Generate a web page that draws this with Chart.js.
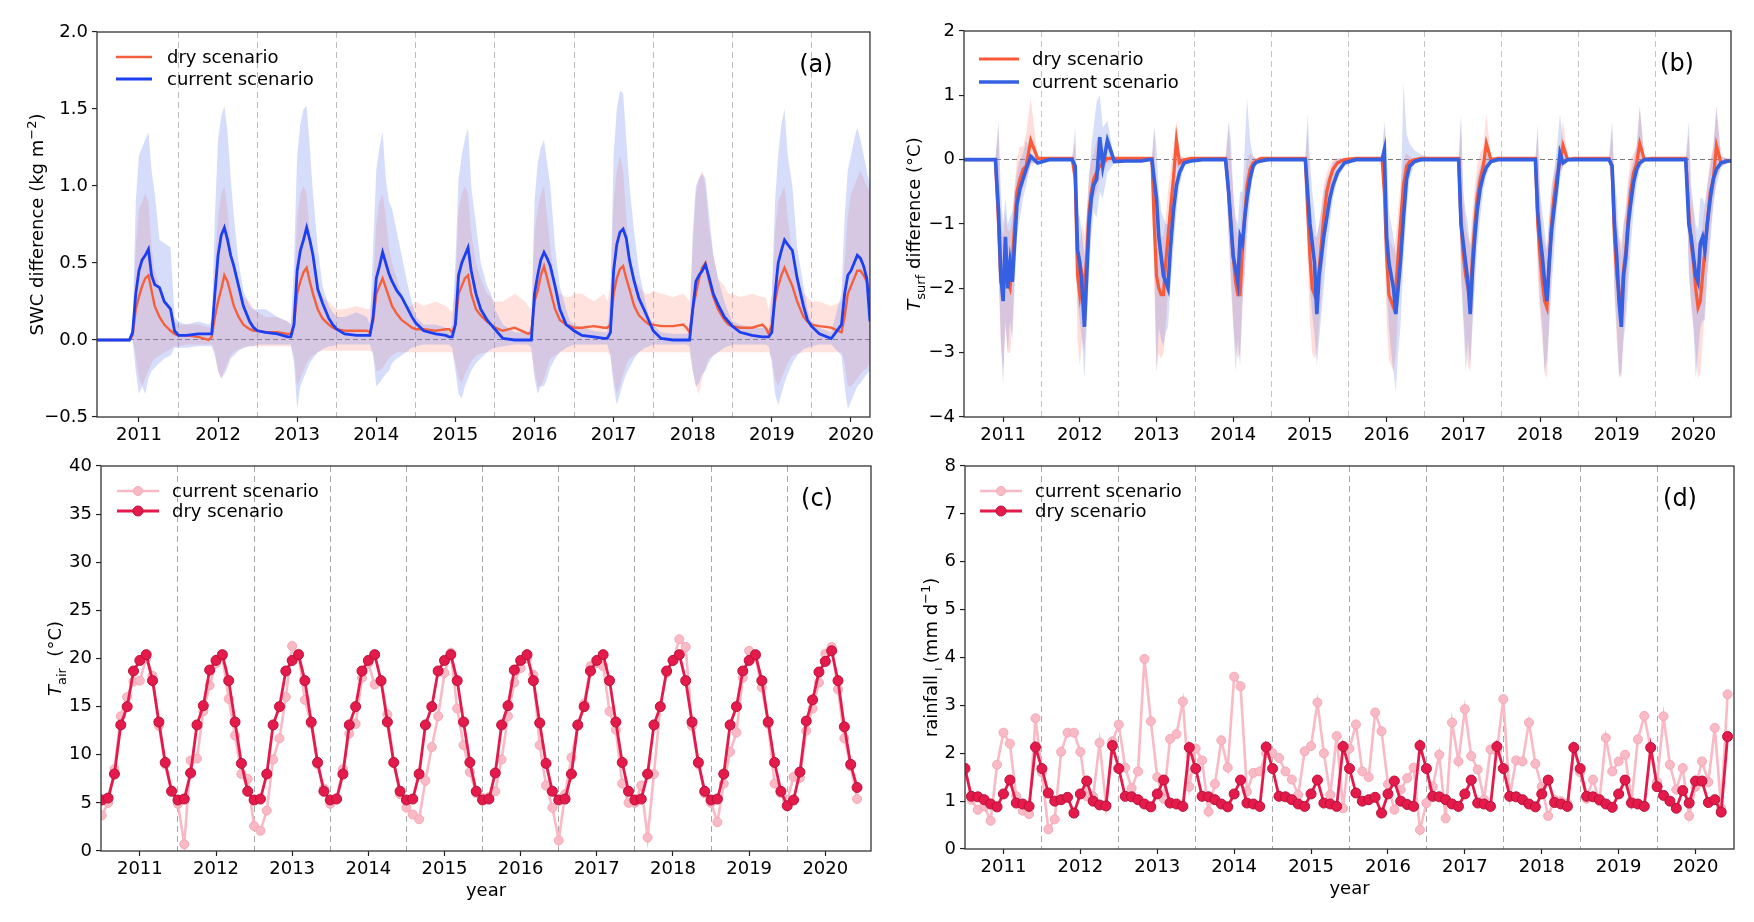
<!DOCTYPE html>
<html>
<head>
<meta charset="utf-8">
<script src="https://cdn.jsdelivr.net/npm/chart.js@4.4.1/dist/chart.umd.min.js"></script>
<style>
  html, body { margin: 0; padding: 0; background: #fff; }
  #page { position: relative; width: 1754px; height: 922px; overflow: hidden; background: #fff; }
  canvas { position: absolute; }
</style>
</head>
<body>
<div id="page">
  <canvas id="panelA" width="877" height="461" style="left:0;top:0"></canvas>
  <canvas id="panelB" width="877" height="461" style="left:877px;top:0"></canvas>
  <canvas id="panelC" width="877" height="482" style="left:0;top:440px"></canvas>
  <canvas id="panelD" width="877" height="482" style="left:877px;top:440px"></canvas>
</div>
<script>
// ---- axis ticks ----
const YEAR_TICKS = [2011, 2012, 2013, 2014, 2015, 2016, 2017, 2018, 2019, 2020];
const YEAR_BOUNDS = [2011.5, 2012.5, 2013.5, 2014.5, 2015.5, 2016.5, 2017.5, 2018.5, 2019.5];

// ---- (a) SWC difference, sampled along the daily curves ----
const X_A = [2010.47, 2010.6, 2010.75, 2010.88,
  2010.92, 2010.96, 2011.0, 2011.04, 2011.08, 2011.12, 2011.16, 2011.2, 2011.26, 2011.32, 2011.4, 2011.45, 2011.5, 2011.6, 2011.75, 2011.88,
  2011.92, 2011.96, 2012.0, 2012.04, 2012.08, 2012.12, 2012.16, 2012.2, 2012.26, 2012.32, 2012.4, 2012.45, 2012.5, 2012.6, 2012.75, 2012.88,
  2012.92, 2012.96, 2013.0, 2013.04, 2013.08, 2013.12, 2013.16, 2013.2, 2013.26, 2013.32, 2013.4, 2013.45, 2013.5, 2013.6, 2013.75, 2013.88,
  2013.92, 2013.96, 2014.0, 2014.04, 2014.08, 2014.12, 2014.16, 2014.2, 2014.26, 2014.32, 2014.4, 2014.45, 2014.5, 2014.6, 2014.75, 2014.88,
  2014.92, 2014.96, 2015.0, 2015.04, 2015.08, 2015.12, 2015.16, 2015.2, 2015.26, 2015.32, 2015.4, 2015.45, 2015.5, 2015.6, 2015.75, 2015.88,
  2015.92, 2015.96, 2016.0, 2016.04, 2016.08, 2016.12, 2016.16, 2016.2, 2016.26, 2016.32, 2016.4, 2016.45, 2016.5, 2016.6, 2016.75, 2016.88,
  2016.92, 2016.96, 2017.0, 2017.04, 2017.08, 2017.12, 2017.16, 2017.2, 2017.26, 2017.32, 2017.4, 2017.45, 2017.5, 2017.6, 2017.75, 2017.88,
  2017.92, 2017.96, 2018.0, 2018.04, 2018.08, 2018.12, 2018.16, 2018.2, 2018.26, 2018.32, 2018.4, 2018.45, 2018.5, 2018.6, 2018.75, 2018.88,
  2018.92, 2018.96, 2019.0, 2019.04, 2019.08, 2019.12, 2019.16, 2019.2, 2019.26, 2019.32, 2019.4, 2019.45, 2019.5, 2019.6, 2019.75, 2019.88,
  2019.92, 2019.96, 2020.0, 2020.04, 2020.08, 2020.12, 2020.16, 2020.2, 2020.24];

const CUR_A = [0, 0, 0, 0,
  0.05, 0.3, 0.45, 0.52, 0.55, 0.59, 0.42, 0.36, 0.34, 0.25, 0.2, 0.06, 0.03, 0.03, 0.04, 0.04,
  0.04, 0.3, 0.55, 0.68, 0.73, 0.65, 0.55, 0.48, 0.35, 0.22, 0.12, 0.08, 0.06, 0.05, 0.04, 0.02,
  0.02, 0.1, 0.45, 0.58, 0.65, 0.73, 0.65, 0.55, 0.33, 0.24, 0.14, 0.1, 0.07, 0.04, 0.03, 0.03,
  0.03, 0.15, 0.4, 0.48, 0.57, 0.5, 0.43, 0.38, 0.32, 0.28, 0.2, 0.15, 0.11, 0.06, 0.04, 0.03,
  0.02, 0.02, 0.1, 0.42, 0.5, 0.55, 0.6, 0.45, 0.3, 0.2, 0.13, 0.1, 0.07, 0.01, 0.0, 0.0,
  0.0, 0.0, 0.3, 0.42, 0.52, 0.57, 0.53, 0.48, 0.35, 0.2, 0.1, 0.08, 0.06, 0.03, 0.02, 0.01,
  0.01, 0.05, 0.45, 0.62, 0.7, 0.72, 0.66, 0.52, 0.38, 0.27, 0.18, 0.12, 0.06, 0.01, 0.0, 0.0,
  0.0, 0.0, 0.2, 0.38, 0.42, 0.45, 0.49, 0.42, 0.3, 0.23, 0.15, 0.12, 0.09, 0.05, 0.03, 0.02,
  0.02, 0.02, 0.05, 0.3, 0.5, 0.58, 0.65, 0.62, 0.58, 0.4, 0.22, 0.13, 0.09, 0.04, 0.01, 0.1,
  0.3, 0.42, 0.45, 0.5, 0.55, 0.53, 0.48, 0.4, 0.12];

const DRY_A = [0, 0, 0, 0,
  0.03, 0.2, 0.28, 0.35, 0.4, 0.42, 0.32, 0.22, 0.15, 0.1, 0.06, 0.04, 0.03, 0.03, 0.02, 0.0,
  0.02, 0.15, 0.25, 0.33, 0.42, 0.38, 0.3, 0.22, 0.15, 0.1, 0.07, 0.06, 0.06, 0.05, 0.05, 0.04,
  0.04, 0.1, 0.3, 0.38, 0.44, 0.47, 0.38, 0.3, 0.2, 0.14, 0.1, 0.08, 0.07, 0.06, 0.06, 0.06,
  0.05, 0.12, 0.3, 0.35, 0.4, 0.34, 0.28, 0.22, 0.17, 0.13, 0.1, 0.08, 0.07, 0.07, 0.06, 0.07,
  0.07, 0.05, 0.1, 0.3, 0.35, 0.4, 0.42, 0.3, 0.2, 0.16, 0.12, 0.1, 0.08, 0.06, 0.08, 0.05,
  0.04, 0.05, 0.25, 0.32, 0.42, 0.48, 0.4, 0.32, 0.2, 0.13, 0.1, 0.09, 0.08, 0.08, 0.09, 0.08,
  0.08, 0.1, 0.3, 0.4, 0.46, 0.48, 0.4, 0.33, 0.22, 0.16, 0.12, 0.1, 0.1, 0.09, 0.09, 0.1,
  0.08, 0.05, 0.2, 0.3, 0.4, 0.47, 0.5, 0.4, 0.28, 0.2, 0.13, 0.1, 0.09, 0.08, 0.08, 0.1,
  0.08, 0.04, 0.1, 0.25, 0.35, 0.42, 0.47, 0.42, 0.35, 0.25, 0.15, 0.12, 0.1, 0.09, 0.08, 0.05,
  0.15, 0.3, 0.35, 0.4, 0.45, 0.45, 0.42, 0.38, 0.3];

const CUR_A_HI = [0, 0, 0, 0,
  0.1, 0.9, 1.2, 1.25, 1.3, 1.35, 1.1, 0.95, 0.65, 0.63, 0.6, 0.15, 0.12, 0.1, 0.12, 0.1,
  0.12, 0.8, 1.3, 1.45, 1.52, 1.35, 1.05, 0.8, 0.5, 0.32, 0.22, 0.2, 0.2, 0.2, 0.15, 0.12,
  0.1, 0.5, 1.2, 1.4, 1.5, 1.52, 1.25, 0.95, 0.6, 0.35, 0.22, 0.18, 0.15, 0.15, 0.18, 0.15,
  0.1, 0.6, 1.1, 1.25, 1.35, 1.05, 0.9, 0.85, 0.7, 0.55, 0.35, 0.25, 0.15, 0.1, 0.1, 0.08,
  0.05, 0.1, 0.5, 1.05, 1.2, 1.3, 1.38, 1.0, 0.75, 0.5, 0.35, 0.3, 0.2, 0.1, 0.05, 0.05,
  0.05, 0.1, 0.9, 1.15, 1.25, 1.3, 1.15, 1.0, 0.6, 0.35, 0.2, 0.12, 0.1, 0.08, 0.06, 0.05,
  0.05, 0.3, 1.2, 1.5, 1.62, 1.6, 1.3, 1.0, 0.7, 0.45, 0.25, 0.15, 0.1, 0.05, 0.04, 0.04,
  0.04, 0.05, 0.7, 1.0, 1.05, 1.08, 1.05, 0.85, 0.55, 0.4, 0.25, 0.18, 0.12, 0.1, 0.08, 0.08,
  0.08, 0.05, 0.3, 0.9, 1.2, 1.4, 1.5, 1.2, 1.0, 0.6, 0.35, 0.2, 0.12, 0.08, 0.05, 0.3,
  0.8, 1.1, 1.2, 1.3, 1.38, 1.3, 1.2, 1.1, 1.0];

const CUR_A_LO = [0, 0, 0, 0,
  0, -0.2, -0.35, -0.3, -0.35, -0.25, -0.2, -0.18, -0.15, -0.12, -0.1, -0.05, -0.05, -0.05, -0.04, -0.04,
  -0.04, -0.1, -0.2, -0.25, -0.22, -0.18, -0.12, -0.1, -0.07, -0.05, -0.04, -0.04, -0.03, -0.03, -0.03, -0.03,
  -0.03, -0.15, -0.45, -0.3, -0.25, -0.2, -0.15, -0.12, -0.08, -0.06, -0.04, -0.04, -0.03, -0.03, -0.03, -0.03,
  -0.03, -0.1, -0.3, -0.28, -0.25, -0.22, -0.2, -0.15, -0.12, -0.1, -0.07, -0.05, -0.04, -0.03, -0.03, -0.03,
  -0.03, -0.05, -0.2, -0.35, -0.38, -0.3, -0.25, -0.2, -0.15, -0.12, -0.08, -0.06, -0.05, -0.04, -0.03, -0.03,
  -0.03, -0.05, -0.25, -0.35, -0.3, -0.3, -0.25, -0.18, -0.12, -0.08, -0.05, -0.04, -0.03, -0.03, -0.03, -0.03,
  -0.03, -0.1, -0.3, -0.42, -0.35, -0.28, -0.22, -0.18, -0.12, -0.08, -0.05, -0.04, -0.03, -0.03, -0.03, -0.03,
  -0.03, -0.04, -0.2, -0.3, -0.28, -0.22, -0.2, -0.15, -0.1, -0.08, -0.05, -0.04, -0.03, -0.03, -0.03, -0.03,
  -0.03, -0.04, -0.15, -0.35, -0.42, -0.35, -0.28, -0.22, -0.15, -0.1, -0.06, -0.05, -0.04, -0.03, -0.03, -0.1,
  -0.3, -0.45, -0.4, -0.35, -0.3, -0.28, -0.25, -0.22, -0.2];

const DRY_A_HI = [0, 0, 0, 0,
  0.05, 0.6, 0.85, 0.9, 0.95, 0.9, 0.6, 0.45, 0.35, 0.25, 0.2, 0.12, 0.1, 0.1, 0.1, 0.08,
  0.08, 0.5, 0.8, 0.95, 1.0, 0.85, 0.6, 0.45, 0.3, 0.28, 0.25, 0.2, 0.18, 0.15, 0.15, 0.12,
  0.1, 0.3, 0.8, 0.95, 1.0, 0.95, 0.7, 0.55, 0.35, 0.28, 0.25, 0.22, 0.2, 0.2, 0.22, 0.2,
  0.2, 0.35, 0.75, 0.9, 0.95, 0.8, 0.6, 0.5, 0.4, 0.3, 0.22, 0.22, 0.25, 0.22, 0.25, 0.22,
  0.2, 0.18, 0.35, 0.85, 0.95, 1.0, 0.95, 0.7, 0.5, 0.4, 0.3, 0.28, 0.25, 0.25, 0.3, 0.25,
  0.22, 0.2, 0.7, 0.85, 0.95, 1.0, 0.8, 0.6, 0.35, 0.3, 0.28, 0.28, 0.3, 0.3, 0.25, 0.3,
  0.25, 0.35, 0.9, 1.1, 1.2, 1.1, 0.8, 0.55, 0.4, 0.35, 0.3, 0.3, 0.32, 0.3, 0.28, 0.3,
  0.28, 0.25, 0.6, 0.95, 1.05, 1.1, 1.0, 0.75, 0.55, 0.4, 0.35, 0.3, 0.3, 0.28, 0.3, 0.28,
  0.28, 0.2, 0.3, 0.7, 0.9, 0.95, 1.0, 0.8, 0.55, 0.4, 0.3, 0.28, 0.25, 0.25, 0.22, 0.25,
  0.5, 0.8, 0.95, 1.0, 1.05, 1.1, 1.05, 1.0, 0.95];

const DRY_A_LO = [0, 0, 0, 0,
  0, -0.1, -0.25, -0.3, -0.25, -0.2, -0.15, -0.12, -0.1, -0.08, -0.06, -0.04, -0.04, -0.03, -0.03, -0.03,
  -0.03, -0.08, -0.2, -0.25, -0.2, -0.15, -0.1, -0.08, -0.06, -0.05, -0.04, -0.04, -0.04, -0.04, -0.04, -0.04,
  -0.04, -0.1, -0.3, -0.25, -0.2, -0.15, -0.12, -0.1, -0.08, -0.07, -0.07, -0.07, -0.07, -0.07, -0.07, -0.07,
  -0.07, -0.08, -0.2, -0.2, -0.18, -0.15, -0.12, -0.1, -0.08, -0.08, -0.08, -0.08, -0.08, -0.08, -0.08, -0.08,
  -0.08, -0.08, -0.15, -0.25, -0.28, -0.22, -0.18, -0.14, -0.1, -0.09, -0.08, -0.08, -0.08, -0.08, -0.08, -0.08,
  -0.08, -0.08, -0.2, -0.3, -0.3, -0.25, -0.18, -0.12, -0.1, -0.08, -0.08, -0.08, -0.08, -0.08, -0.08, -0.08,
  -0.08, -0.1, -0.25, -0.35, -0.3, -0.22, -0.16, -0.12, -0.1, -0.08, -0.08, -0.08, -0.08, -0.08, -0.08, -0.08,
  -0.08, -0.08, -0.2, -0.3, -0.35, -0.25, -0.18, -0.12, -0.1, -0.08, -0.08, -0.08, -0.08, -0.08, -0.08, -0.08,
  -0.08, -0.08, -0.12, -0.25, -0.3, -0.25, -0.2, -0.15, -0.1, -0.09, -0.08, -0.08, -0.08, -0.08, -0.08, -0.08,
  -0.15, -0.3, -0.3, -0.28, -0.25, -0.22, -0.2, -0.18, -0.15];

// ---- (b) Tsurf difference, sampled along the daily curves ----
const X_B = [2010.49, 2010.7,
  2010.9, 2010.94, 2010.97, 2011.0, 2011.03, 2011.06, 2011.09, 2011.12, 2011.15, 2011.18, 2011.22, 2011.26, 2011.3, 2011.36, 2011.45, 2011.6, 2011.8,
  2011.9, 2011.94, 2011.97, 2012.0, 2012.03, 2012.06, 2012.09, 2012.12, 2012.15, 2012.18, 2012.22, 2012.26, 2012.3, 2012.36, 2012.45, 2012.6, 2012.8,
  2012.9, 2012.94, 2012.97, 2013.0, 2013.03, 2013.06, 2013.09, 2013.12, 2013.15, 2013.18, 2013.22, 2013.26, 2013.3, 2013.36, 2013.45, 2013.6, 2013.8,
  2013.9, 2013.94, 2013.97, 2014.0, 2014.03, 2014.06, 2014.09, 2014.12, 2014.15, 2014.18, 2014.22, 2014.26, 2014.3, 2014.36, 2014.45, 2014.6, 2014.8,
  2014.9, 2014.94, 2014.97, 2015.0, 2015.03, 2015.06, 2015.09, 2015.12, 2015.15, 2015.18, 2015.22, 2015.26, 2015.3, 2015.36, 2015.45, 2015.6, 2015.8,
  2015.9, 2015.94, 2015.97, 2016.0, 2016.03, 2016.06, 2016.09, 2016.12, 2016.15, 2016.18, 2016.22, 2016.26, 2016.3, 2016.36, 2016.45, 2016.6, 2016.8,
  2016.9, 2016.94, 2016.97, 2017.0, 2017.03, 2017.06, 2017.09, 2017.12, 2017.15, 2017.18, 2017.22, 2017.26, 2017.3, 2017.36, 2017.45, 2017.6, 2017.8,
  2017.9, 2017.94, 2017.97, 2018.0, 2018.03, 2018.06, 2018.09, 2018.12, 2018.15, 2018.18, 2018.22, 2018.26, 2018.3, 2018.36, 2018.45, 2018.6, 2018.8,
  2018.9, 2018.94, 2018.97, 2019.0, 2019.03, 2019.06, 2019.09, 2019.12, 2019.15, 2019.18, 2019.22, 2019.26, 2019.3, 2019.36, 2019.45, 2019.6, 2019.8,
  2019.9, 2019.94, 2019.97, 2020.0, 2020.03, 2020.06, 2020.09, 2020.12, 2020.15, 2020.18, 2020.22, 2020.26, 2020.3, 2020.36, 2020.45, 2020.49];

const CUR_B = [0, 0,
  0, -0.8, -1.8, -2.2, -1.2, -2.0, -1.6, -1.9, -1.3, -0.7, -0.45, -0.3, -0.15, 0.05, -0.05, 0, 0,
  0, -0.1, -1.4, -1.6, -2.0, -2.6, -1.8, -1.0, -0.6, -0.4, -0.3, 0.35, -0.1, 0.3, -0.03, -0.02, -0.02,
  0, 0, -0.3, -0.6, -1.2, -1.5, -1.8, -1.9, -2.0, -1.4, -0.8, -0.4, -0.2, -0.05, -0.02, 0, 0,
  0, -0.5, -1.0, -1.5, -1.7, -1.9, -1.2, -1.3, -0.9, -0.6, -0.3, -0.1, -0.04, -0.02, 0, 0, 0,
  0, 0, -0.5, -1.0, -1.3, -1.6, -2.4, -1.8, -1.5, -1.2, -0.9, -0.6, -0.4, -0.2, -0.05, 0, 0,
  0, 0, 0.15, -1.2, -1.6, -1.8, -2.0, -2.4, -2.0, -1.6, -0.9, -0.3, -0.1, -0.03, 0, 0, 0,
  0, 0, -1.0, -1.3, -1.6, -1.9, -2.4, -1.7, -1.2, -0.8, -0.45, -0.25, -0.12, -0.03, 0, 0, 0,
  0, 0, -0.8, -1.2, -1.5, -1.9, -2.2, -1.6, -1.1, -0.8, -0.4, 0.1, -0.05, 0, 0, 0, 0,
  0, -0.1, -1.0, -1.5, -2.2, -2.6, -1.8, -1.5, -1.0, -0.7, -0.35, -0.15, -0.05, 0, 0, 0, 0,
  0, -1.0, -1.2, -1.5, -1.8, -1.9, -1.3, -1.2, -1.4, -1.0, -0.6, -0.3, -0.15, -0.05, -0.02, -0.02];

const DRY_B = [0, 0,
  0, -1.0, -1.9, -2.0, -1.5, -1.9, -2.0, -1.6, -1.0, -0.5, -0.3, -0.15, -0.1, 0.3, 0.02, 0.02, 0.02,
  0.02, -0.3, -1.8, -2.1, -1.8, -2.0, -1.5, -0.8, -0.5, -0.3, -0.2, -0.1, -0.05, 0.02, 0.02, 0.02, 0.02,
  0.02, 0.02, -1.0, -1.8, -2.0, -2.1, -2.1, -1.6, -1.2, -0.8, -0.3, 0.3, -0.05, 0.0, 0.02, 0.02, 0.02,
  0.02, -0.5, -1.0, -1.5, -1.9, -2.1, -2.1, -1.4, -0.9, -0.4, -0.15, -0.05, -0.02, 0.02, 0.02, 0.02, 0.02,
  0.02, 0.02, -0.8, -1.5, -2.0, -2.1, -2.0, -1.7, -1.3, -0.9, -0.5, -0.3, -0.15, -0.05, 0.0, 0.02, 0.02,
  0.02, 0.02, -0.5, -1.5, -2.1, -2.2, -2.3, -2.0, -1.5, -1.0, -0.4, -0.1, -0.03, 0.0, 0.02, 0.02, 0.02,
  0.02, 0.02, -1.0, -1.5, -1.8, -2.0, -2.1, -1.5, -1.0, -0.6, -0.3, -0.1, 0.25, 0.0, 0.02, 0.02, 0.02,
  0.02, 0.02, -1.0, -1.5, -1.9, -2.2, -2.3, -1.6, -1.0, -0.6, -0.25, -0.05, 0.22, 0.0, 0.02, 0.02, 0.02,
  0.02, -0.1, -1.2, -1.8, -2.1, -2.2, -1.7, -1.4, -0.9, -0.5, -0.2, -0.05, 0.25, 0.0, 0.02, 0.02, 0.02,
  0.02, -0.8, -1.3, -1.6, -2.0, -2.3, -2.2, -1.8, -1.4, -1.0, -0.5, -0.3, 0.22, -0.05, -0.02, -0.02];

const CUR_B_HI = [0, 0,
  0.02, 0.6, -0.5, -1.0, -0.6, -1.0, -0.9, -0.8, -0.5, -0.2, 0.0, 0.1, 0.3, 0.1, 0.02, 0.02, 0.02,
  0.02, 0.5, -0.8, -0.9, -1.2, -1.5, -0.9, -0.3, 0.2, 0.5, 0.9, 1.0, 0.5, 0.6, 0.02, 0.02, 0.02,
  0.02, 0.02, 0.5, 0.2, -0.5, -0.8, -0.9, -1.0, -1.0, -0.6, -0.2, 0.0, 0.05, 0.02, 0.02, 0.02, 0.02,
  0.02, 0.6, 0.3, -0.5, -0.9, -1.0, -0.5, -0.5, 0.2, 0.95, 0.3, 0.05, 0.02, 0.02, 0.02, 0.02, 0.02,
  0.02, 0.02, 0.7, 0.0, -0.5, -0.8, -1.2, -1.0, -0.8, -0.5, -0.3, -0.2, -0.05, 0.02, 0.02, 0.02, 0.02,
  0.02, 0.02, 0.6, 0.2, -0.8, -1.0, -1.2, -1.5, -1.2, -0.8, 1.2, 0.4, 0.25, 0.15, 0.08, 0.02, 0.02,
  0.02, 0.02, 0.7, -0.5, -0.8, -1.0, -1.4, -1.0, -0.6, -0.3, -0.1, 0.0, 0.1, 0.02, 0.02, 0.02, 0.02,
  0.02, 0.02, 0.55, -0.5, -0.8, -1.1, -1.4, -0.9, -0.5, -0.2, 0.2, 0.7, 0.3, 0.02, 0.02, 0.02, 0.02,
  0.02, 0.6, -0.3, -0.6, -1.2, -1.5, -1.0, -0.8, -0.4, -0.2, 0.0, 0.2, 0.8, 0.05, 0.02, 0.02, 0.02,
  0.02, 0.6, -0.4, -0.7, -1.0, -1.1, -0.6, -0.6, -0.7, -0.4, -0.1, 0.2, 0.8, 0.05, 0.02, 0.02];

const CUR_B_LO = [0, 0,
  -0.02, -1.5, -2.8, -3.5, -2.5, -3.0, -2.5, -2.8, -2.0, -1.2, -0.9, -0.6, -0.4, -0.05, -0.05, -0.02, -0.02,
  -0.02, -0.4, -2.2, -2.5, -2.8, -3.4, -2.6, -1.8, -1.2, -0.8, -0.9, -0.5, -0.6, -0.2, -0.05, -0.03, -0.03,
  -0.02, -0.02, -1.5, -3.3, -2.6, -2.8, -2.9, -2.7, -2.6, -2.0, -1.4, -0.8, -0.4, -0.1, -0.04, -0.02, -0.02,
  -0.02, -1.2, -1.8, -2.5, -3.3, -2.8, -3.2, -2.2, -1.8, -1.2, -0.6, -0.2, -0.08, -0.04, -0.02, -0.02, -0.02,
  -0.02, -0.02, -1.2, -2.0, -2.4, -2.7, -3.2, -2.8, -2.4, -2.0, -1.4, -1.0, -0.6, -0.3, -0.1, -0.02, -0.02,
  -0.02, -0.02, -0.8, -2.0, -2.6, -3.0, -3.3, -3.6, -3.0, -2.6, -1.6, -0.8, -0.3, -0.08, -0.02, -0.02, -0.02,
  -0.02, -0.02, -1.8, -2.5, -3.3, -2.8, -3.2, -2.6, -2.0, -1.4, -0.9, -0.5, -0.25, -0.06, -0.02, -0.02, -0.02,
  -0.02, -0.02, -1.5, -2.2, -2.6, -3.3, -3.1, -2.6, -2.0, -1.5, -0.8, -0.3, -0.1, -0.03, -0.02, -0.02, -0.02,
  -0.02, -0.5, -2.0, -2.6, -3.4, -3.3, -2.8, -2.5, -2.0, -1.4, -0.8, -0.4, -0.15, -0.03, -0.02, -0.02, -0.02,
  -0.02, -1.8, -2.2, -2.6, -3.4, -3.0, -2.6, -2.5, -2.5, -1.8, -1.3, -0.7, -0.4, -0.12, -0.05, -0.04];

const DRY_B_HI = [0, 0,
  0.02, 0.5, -1.0, -1.2, -0.8, -1.1, -1.1, -0.9, -0.4, 0.0, 0.2, 0.2, 0.4, 0.95, 0.05, 0.02, 0.02,
  0.02, 0.3, -1.0, -1.3, -1.0, -1.2, -0.8, -0.2, 0.0, 0.1, 0.3, 0.4, 0.2, 0.05, 0.02, 0.02, 0.02,
  0.02, 0.02, 0.5, -0.8, -1.0, -1.2, -1.2, -0.9, -0.5, -0.2, 0.2, 0.6, 0.1, 0.02, 0.02, 0.02, 0.02,
  0.02, 0.5, 0.0, -0.5, -1.0, -1.2, -1.2, -0.6, -0.3, 0.0, 0.1, 0.05, 0.02, 0.02, 0.02, 0.02, 0.02,
  0.02, 0.02, 0.5, -0.6, -1.0, -1.2, -1.2, -1.0, -0.7, -0.4, -0.2, -0.1, 0.0, 0.02, 0.02, 0.02, 0.02,
  0.02, 0.02, 0.5, -0.5, -1.2, -1.3, -1.4, -1.2, -0.8, -0.4, 0.0, 0.1, 0.05, 0.02, 0.02, 0.02, 0.02,
  0.02, 0.02, 0.6, -0.6, -1.0, -1.2, -1.3, -0.8, -0.4, -0.1, 0.1, 0.2, 0.7, 0.05, 0.02, 0.02, 0.02,
  0.02, 0.02, 0.4, -0.6, -1.1, -1.3, -1.4, -0.9, -0.4, -0.2, 0.0, 0.2, 0.6, 0.05, 0.02, 0.02, 0.02,
  0.02, 0.5, -0.4, -1.0, -1.2, -1.3, -1.0, -0.7, -0.3, 0.0, 0.1, 0.2, 0.85, 0.05, 0.02, 0.02, 0.02,
  0.02, 0.4, -0.6, -0.8, -1.2, -1.4, -1.3, -1.0, -0.7, -0.4, 0.0, 0.2, 0.85, 0.05, 0.02, 0.02];

const DRY_B_LO = [0, 0,
  -0.02, -1.8, -2.9, -3.3, -2.6, -3.0, -3.0, -2.6, -1.8, -1.0, -0.6, -0.4, -0.3, -0.1, -0.02, -0.02, -0.02,
  -0.02, -0.8, -2.8, -3.2, -2.8, -3.0, -2.4, -1.5, -1.0, -0.6, -0.5, -0.3, -0.2, -0.05, -0.02, -0.02, -0.02,
  -0.02, -0.02, -2.0, -3.3, -3.0, -3.1, -3.0, -2.6, -2.0, -1.5, -0.7, -0.1, -0.2, -0.05, -0.02, -0.02, -0.02,
  -0.02, -1.2, -2.0, -2.6, -2.9, -3.1, -3.0, -2.3, -1.6, -0.9, -0.4, -0.15, -0.05, -0.02, -0.02, -0.02, -0.02,
  -0.02, -0.02, -1.5, -2.5, -3.0, -3.1, -3.0, -2.6, -2.1, -1.5, -1.0, -0.6, -0.3, -0.1, -0.02, -0.02, -0.02,
  -0.02, -0.02, -1.2, -2.5, -3.1, -3.2, -3.3, -3.0, -2.3, -1.6, -0.8, -0.3, -0.1, -0.02, -0.02, -0.02, -0.02,
  -0.02, -0.02, -1.8, -2.4, -2.9, -3.2, -3.3, -2.4, -1.7, -1.1, -0.6, -0.3, -0.1, -0.05, -0.02, -0.02, -0.02,
  -0.02, -0.02, -1.8, -2.4, -2.8, -3.3, -3.4, -2.5, -1.7, -1.1, -0.5, -0.2, -0.1, -0.03, -0.02, -0.02, -0.02,
  -0.02, -0.6, -2.1, -2.8, -3.3, -3.4, -2.7, -2.3, -1.6, -1.0, -0.5, -0.2, -0.1, -0.03, -0.02, -0.02, -0.02,
  -0.02, -1.6, -2.3, -2.6, -3.0, -3.4, -3.3, -2.8, -2.3, -1.8, -1.1, -0.7, -0.3, -0.1, -0.05, -0.04];

// ---- (c) and (d) monthly series, July 2010 .. June 2020 ----
const FIRST_MONTH = 2010.5;

const TAIR_CUR = [
  3.7, 5.0, 8.5, 14.0, 16.0, 17.6, 17.7, 20.0, 18.2, 13.0, 9.0, 6.3,
  4.9, 0.7, 9.4, 9.6, 14.5, 17.2, 19.5, 20.2, 15.8, 12.0, 8.0, 7.5,
  2.6, 2.1, 4.2, 9.5, 11.7, 16.0, 21.3, 20.5, 15.7, 13.2, 9.0, 6.5,
  4.9, 5.5, 8.5, 12.2, 13.2, 18.0, 19.5, 17.3, 17.6, 14.2, 9.2, 5.9,
  4.5, 3.8, 3.3, 7.3, 10.8, 14.0, 18.5, 20.6, 14.8, 11.0, 8.2, 6.0,
  5.5, 5.6, 6.2, 9.5, 14.0, 17.5, 19.0, 20.0, 18.3, 11.0, 6.8, 4.5,
  1.1, 5.9, 9.7, 13.0, 15.3, 19.2, 19.5, 19.2, 14.5, 12.6, 7.0, 5.0,
  5.0, 6.8, 1.4, 8.0, 15.0, 18.5, 19.8, 22.0, 21.2, 13.0, 9.0, 6.0,
  5.0, 3.0, 7.0, 10.3, 12.3, 18.0, 20.8, 20.2, 17.0, 13.2, 7.0, 6.0,
  5.3, 7.7, 7.6, 12.5, 14.8, 17.5, 20.5, 21.2, 16.8, 11.7, 8.8, 5.4];

const TAIR_DRY = [
  5.3, 5.5, 8.0, 13.1, 15.0, 18.7, 19.8, 20.4, 17.7, 13.4, 9.2, 6.2,
  5.3, 5.4, 8.1, 13.1, 15.1, 18.8, 19.8, 20.4, 17.7, 13.4, 9.1, 6.2,
  5.3, 5.4, 8.0, 13.1, 15.0, 18.7, 19.8, 20.4, 17.7, 13.4, 9.2, 6.2,
  5.3, 5.4, 8.0, 13.1, 15.0, 18.7, 19.8, 20.4, 17.7, 13.4, 9.2, 6.2,
  5.3, 5.4, 8.0, 13.1, 15.0, 18.7, 19.8, 20.4, 17.7, 13.4, 9.2, 6.2,
  5.3, 5.4, 8.1, 13.1, 15.1, 18.8, 19.8, 20.4, 17.7, 13.3, 9.1, 6.2,
  5.3, 5.4, 8.0, 13.1, 15.0, 18.7, 19.8, 20.4, 17.7, 13.4, 9.2, 6.2,
  5.3, 5.4, 8.0, 13.1, 15.0, 18.7, 19.8, 20.4, 17.7, 13.4, 9.2, 6.2,
  5.3, 5.4, 8.0, 13.1, 15.0, 18.7, 19.8, 20.4, 17.7, 13.4, 9.2, 6.2,
  4.7, 5.3, 8.2, 13.5, 15.7, 18.6, 19.7, 20.8, 17.7, 12.9, 9.0, 6.6];

const RAIN_CUR = [
  1.7, 1.03, 0.82, 0.89, 0.59, 1.76, 2.43, 2.2, 1.1, 0.8, 0.73, 2.73,
  1.6, 0.41, 0.62, 2.03, 2.43, 2.43, 2.03, 1.1, 1.1, 2.22, 0.92, 2.25,
  2.6, 1.7, 1.27, 1.62, 3.97, 2.67, 1.5, 1.05, 2.3, 2.4, 3.08, 1.3,
  2.1, 1.85, 0.78, 1.36, 2.27, 1.7, 3.6, 3.4, 1.2, 1.59, 1.62, 2.0,
  2.0, 1.9, 1.62, 1.45, 1.13, 2.04, 2.15, 3.06, 2.0, 1.13, 2.36, 0.85,
  2.1, 2.6, 1.62, 1.5, 2.85, 2.46, 1.35, 0.82, 1.24, 1.48, 1.7, 0.4,
  0.96, 1.3, 1.97, 0.64, 2.64, 1.83, 2.92, 1.94, 1.66, 1.03, 2.08, 2.05,
  3.13, 1.1, 1.85, 1.83, 2.64, 1.78, 1.3, 0.69, 1.03, 1.0, 0.95, 2.1,
  1.6, 1.05, 1.45, 1.0, 2.32, 1.62, 1.83, 1.97, 1.0, 2.29, 2.78, 2.1,
  1.4, 2.77, 1.76, 1.24, 1.69, 0.69, 1.3, 1.83, 1.4, 2.53, 0.85, 3.23];

const RAIN_DRY = [
  1.68, 1.1, 1.09, 1.03, 0.94, 0.88, 1.15, 1.44, 0.96, 0.94, 0.89, 2.13,
  1.68, 1.17, 1.0, 1.03, 1.08, 0.75, 1.15, 1.42, 1.0, 0.92, 0.9, 2.16,
  1.68, 1.1, 1.09, 1.03, 0.94, 0.88, 1.15, 1.44, 0.96, 0.94, 0.89, 2.12,
  1.68, 1.1, 1.09, 1.03, 0.94, 0.88, 1.15, 1.44, 0.96, 0.94, 0.89, 2.13,
  1.68, 1.1, 1.09, 1.03, 0.94, 0.89, 1.15, 1.44, 0.96, 0.94, 0.89, 2.14,
  1.68, 1.17, 1.0, 1.03, 1.08, 0.75, 1.15, 1.42, 1.0, 0.93, 0.89, 2.16,
  1.68, 1.1, 1.09, 1.03, 0.94, 0.89, 1.15, 1.44, 0.96, 0.94, 0.89, 2.14,
  1.68, 1.1, 1.09, 1.03, 0.94, 0.88, 1.15, 1.44, 0.97, 0.94, 0.89, 2.12,
  1.68, 1.1, 1.09, 1.03, 0.94, 0.87, 1.15, 1.44, 0.96, 0.94, 0.89, 2.12,
  1.3, 1.12, 1.0, 0.85, 1.22, 0.96, 1.42, 1.42, 0.97, 1.03, 0.77, 2.35];

// ---------------------------------------------------------------------------
Chart.defaults.font.family = '"DejaVu Sans", sans-serif';
Chart.defaults.font.size = 18;
Chart.defaults.color = '#000';

const FONT = '"DejaVu Sans", sans-serif';
const pts = (xs, ys) => xs.map((x, i) => ({ x: x, y: ys[i] }));
const monthly = (ys) => ys.map((y, i) => ({ x: FIRST_MONTH + i / 12, y: y }));
const minus = (s) => String(s).replace('-', '\u2212');
const isBound = (v) => YEAR_BOUNDS.includes(v);

function xAxis(min, max, lineColor, height, title) {
  return {
    type: 'linear', min: min, max: max,
    afterBuildTicks: (s) => {
      s.ticks = YEAR_TICKS.concat(YEAR_BOUNDS).sort((a, b) => a - b).map((v) => ({ value: v }));
    },
    afterFit: (s) => { s.height = height; },
    ticks: { autoSkip: false, maxRotation: 0, padding: 3, color: '#000',
      callback: (v) => (Number.isInteger(v) ? String(v) : '') },
    grid: {
      color: (c) => (c.tick && isBound(c.tick.value) ? lineColor : 'rgba(0,0,0,0)'),
      tickColor: (c) => (c.tick && isBound(c.tick.value) ? 'rgba(0,0,0,0)' : '#222'),
      lineWidth: 1, tickLength: 5, tickWidth: 1.2
    },
    border: { display: false, dash: [6, 4] },
    title: title
      ? { display: true, text: title.text, color: '#000', font: { size: 18 }, padding: title.pad }
      : { display: false }
  };
}

function yAxis(min, max, step, fmt, zeroLine, width) {
  return {
    min: min, max: max,
    afterFit: (s) => { s.width = width; },
    ticks: { stepSize: step, padding: 4, color: '#000', callback: fmt },
    grid: {
      color: (c) => (zeroLine && c.tick && c.tick.value === 0 ? '#7a7a7a' : 'rgba(0,0,0,0)'),
      tickColor: '#222', lineWidth: 1.1, tickLength: 5, tickWidth: 1.2
    },
    border: { display: false, dash: [5, 3] }
  };
}

// frame, rotated y title (with sub/superscripts), inside legend and panel letter
function decor(cfg) {
  return {
    id: 'decor' + cfg.letter,
    afterDraw(chart) {
      const ctx = chart.ctx;
      const a = chart.chartArea;
      ctx.save();
      // frame
      ctx.strokeStyle = '#333';
      ctx.lineWidth = 1.3;
      ctx.setLineDash([]);
      ctx.strokeRect(a.left, a.top, a.right - a.left, a.bottom - a.top);

      // y title
      const size = 18;
      const fontOf = (p) => (p.italic ? 'italic ' : '') + ((p.sub || p.sup) ? 13 : size) + 'px ' + FONT;
      ctx.save();
      ctx.translate(cfg.titleX, (a.top + a.bottom) / 2);
      ctx.rotate(-Math.PI / 2);
      ctx.fillStyle = '#000';
      ctx.textBaseline = 'alphabetic';
      ctx.textAlign = 'left';
      let w = 0;
      cfg.yTitle.forEach((p) => { ctx.font = fontOf(p); w += ctx.measureText(p.t).width; });
      let tx = -w / 2;
      cfg.yTitle.forEach((p) => {
        ctx.font = fontOf(p);
        const dy = p.sub ? 5 : (p.sup ? -7 : 0);
        ctx.fillText(p.t, tx, 6.5 + dy);
        tx += ctx.measureText(p.t).width;
      });
      ctx.restore();

      // legend
      cfg.legend.forEach((idx, i) => {
        const ds = chart.data.datasets[idx];
        const y = a.top + cfg.legY[i];
        const x0 = a.left + cfg.legX[0];
        const x1 = a.left + cfg.legX[1];
        ctx.strokeStyle = ds.borderColor;
        ctx.lineWidth = ds.borderWidth;
        ctx.beginPath();
        ctx.moveTo(x0, y);
        ctx.lineTo(x1, y);
        ctx.stroke();
        if (cfg.marker) {
          ctx.fillStyle = ds.pointBackgroundColor;
          ctx.strokeStyle = ds.pointBorderColor;
          ctx.lineWidth = 1;
          ctx.beginPath();
          ctx.arc((x0 + x1) / 2, y, ds.pointRadius, 0, Math.PI * 2);
          ctx.fill();
          ctx.stroke();
        }
        ctx.fillStyle = '#000';
        ctx.font = '18px ' + FONT;
        ctx.textBaseline = 'middle';
        ctx.textAlign = 'left';
        ctx.fillText(ds.label, a.left + cfg.legX[2], y + 1);
      });

      // panel letter
      ctx.font = '24px ' + FONT;
      ctx.textAlign = 'center';
      ctx.textBaseline = 'middle';
      ctx.fillStyle = '#000';
      ctx.fillText('(' + cfg.letter + ')', a.right - 54, a.top + 34);
      ctx.restore();
    }
  };
}

const lineDs = (label, data, color, width, order) => ({
  label: label, data: data, borderColor: color, borderWidth: width,
  pointRadius: 0, fill: false, order: order, tension: 0
});
const bandDs = (label, data, fillColor, order) => ({
  label: label, data: data, borderColor: 'rgba(0,0,0,0)', borderWidth: 1,
  backgroundColor: fillColor || 'rgba(0,0,0,0)', pointRadius: 0, fill: fillColor ? '+1' : false, order: order, tension: 0
});
const markDs = (label, data, color, edge, width, radius, order) => ({
  label: label, data: data, borderColor: color, borderWidth: width,
  pointRadius: radius, pointBackgroundColor: color, pointBorderColor: edge, pointBorderWidth: 1,
  fill: false, order: order, tension: 0
});

function baseOptions(pad, xs, ys) {
  return {
    responsive: false, animation: false, devicePixelRatio: 1, parsing: false, normalized: true,
    layout: { autoPadding: false, padding: pad },
    plugins: { legend: { display: false }, tooltip: { enabled: false } },
    scales: { x: xs, y: ys }
  };
}

// (a)
new Chart(document.getElementById('panelA'), {
  type: 'line',
  data: { datasets: [
    lineDs('dry scenario', pts(X_A, DRY_A), '#f5603c', 2.4, 1),
    lineDs('current scenario', pts(X_A, CUR_A), '#1d3ff2', 2.8, 0),
    bandDs('dry range', pts(X_A, DRY_A_HI), 'rgba(255,125,105,0.22)', 3),
    bandDs('dry range low', pts(X_A, DRY_A_LO), null, 3),
    bandDs('current range', pts(X_A, CUR_A_HI), 'rgba(95,125,240,0.26)', 2),
    bandDs('current range low', pts(X_A, CUR_A_LO), null, 2)
  ] },
  options: baseOptions({ left: 0, right: 5, top: 32, bottom: 0 },
    xAxis(2010.47, 2020.24, '#bdbdbd', 44, null),
    yAxis(-0.5, 2.0, 0.5, (v) => minus(v.toFixed(1)), true, 97)),
  plugins: [decor({ letter: 'a', titleX: 36, legend: [0, 1], legY: [25, 47], legX: [19, 55, 70], marker: false,
    yTitle: [{ t: 'SWC difference (kg m' }, { t: '\u22122', sup: true }, { t: ')' }] })]
});

// (b)
new Chart(document.getElementById('panelB'), {
  type: 'line',
  data: { datasets: [
    lineDs('dry scenario', pts(X_B, DRY_B), '#fa5a38', 3.2, 1),
    lineDs('current scenario', pts(X_B, CUR_B), '#3660e2', 3.6, 0),
    bandDs('dry range', pts(X_B, DRY_B_HI), 'rgba(250,120,110,0.25)', 3),
    bandDs('dry range low', pts(X_B, DRY_B_LO), null, 3),
    bandDs('current range', pts(X_B, CUR_B_HI), 'rgba(110,135,225,0.28)', 2),
    bandDs('current range low', pts(X_B, CUR_B_LO), null, 2)
  ] },
  options: baseOptions({ left: 0, right: 23, top: 31, bottom: 0 },
    xAxis(2010.49, 2020.49, '#c4c4c4', 44, null),
    yAxis(-4, 2, 1, (v) => minus(v), true, 87)),
  plugins: [decor({ letter: 'b', titleX: 36, legend: [0, 1], legY: [28, 51], legX: [15, 55, 68], marker: false,
    yTitle: [{ t: 'T', italic: true }, { t: 'surf', sub: true }, { t: ' difference (\u00b0C)' }] })]
});

// (c)
new Chart(document.getElementById('panelC'), {
  type: 'line',
  data: { datasets: [
    markDs('current scenario', monthly(TAIR_CUR), '#f9b9c5', '#f4a8b6', 2.6, 4.5, 1),
    markDs('dry scenario', monthly(TAIR_DRY), '#e41a4b', '#b8123a', 2.8, 5, 0)
  ] },
  options: baseOptions({ left: 0, right: 6, top: 26, bottom: 0 },
    xAxis(2010.49, 2020.6, '#a8a8a8', 71, { text: 'year', pad: { top: 0, bottom: 20 } }),
    yAxis(0, 40, 5, (v) => minus(v), false, 101)),
  plugins: [decor({ letter: 'c', titleX: 54, legend: [0, 1], legY: [25, 45], legX: [16, 58, 71], marker: true,
    yTitle: [{ t: 'T', italic: true }, { t: 'air', sub: true }, { t: '  (\u00b0C)' }] })]
});

// (d)
new Chart(document.getElementById('panelD'), {
  type: 'line',
  data: { datasets: [
    markDs('current scenario', monthly(RAIN_CUR), '#f9b9c5', '#f4a8b6', 2.6, 4.5, 1),
    markDs('dry scenario', monthly(RAIN_DRY), '#e41a4b', '#b8123a', 2.8, 5, 0)
  ] },
  options: baseOptions({ left: 0, right: 20, top: 26, bottom: 0 },
    xAxis(2010.5, 2020.5, '#a8a8a8', 73, { text: 'year', pad: { top: 0, bottom: 22 } }),
    yAxis(0, 8, 1, (v) => minus(v), false, 88)),
  plugins: [decor({ letter: 'd', titleX: 53, legend: [0, 1], legY: [25, 45], legX: [15, 57, 70], marker: true,
    yTitle: [{ t: 'rainfall' }, { t: ' \u0131 ', sub: true }, { t: '(mm d' }, { t: '\u22121', sup: true }, { t: ')' }] })]
});
</script>
</body>
</html>
